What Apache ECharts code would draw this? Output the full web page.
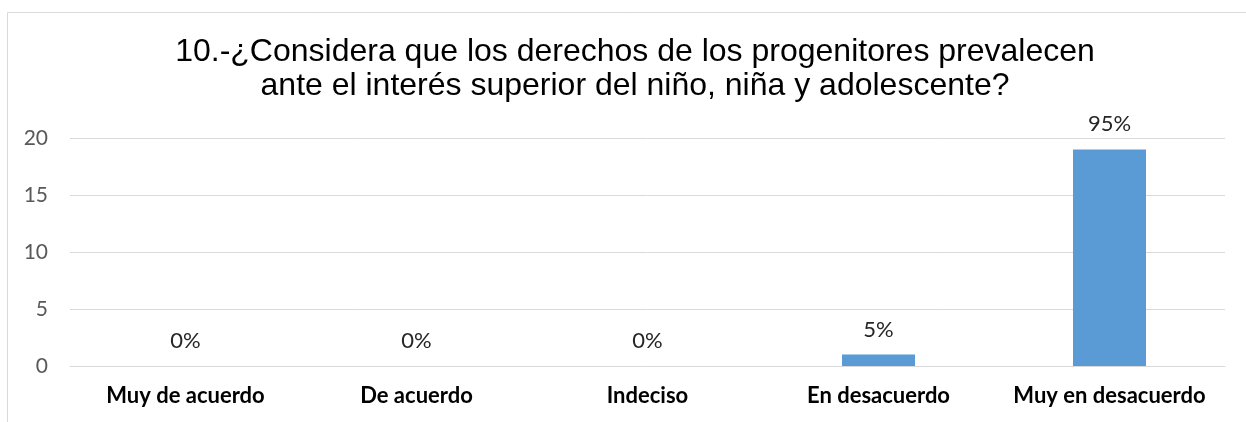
<!DOCTYPE html>
<html>
<head>
<meta charset="utf-8">
<script src="https://cdn.jsdelivr.net/npm/echarts@6/dist/echarts.min.js"></script>
<style>
  html, body { margin: 0; padding: 0; background: #fff; }
  #chart { width: 1246px; height: 422px; }
</style>
</head>
<body>
<div id="chart"></div>
<script>
  // data
  const categories = ['Muy de acuerdo', 'De acuerdo', 'Indeciso', 'En desacuerdo', 'Muy en desacuerdo']
  const counts = [0, 0, 0, 1, 19]
  const percentLabels = ['0%', '0%', '0%', '5%', '95%']
  const yTicks = { min: 0, max: 20, interval: 5 }

  const titleText = '10.-¿Considera que los derechos de los progenitores prevalecen\nante el interés superior del niño, niña y adolescente?'

  const chart = echarts.init(document.getElementById('chart'))
  chart.setOption({
    animation: false,
    title: {
      text: titleText,
      left: 630,
      top: 30,
      textAlign: 'center',
      textStyle: {
        fontFamily: 'Liberation Sans',
        fontSize: 32,
        fontWeight: 'normal',
        color: '#000',
        lineHeight: 34
      }
    },
    graphic: [{
      type: 'rect',
      shape: { x: 7.5, y: 12.5, width: 1400, height: 600 },
      style: { fill: 'none', stroke: '#d9d9d9', lineWidth: 1 },
      silent: true
    }],
    grid: { left: 70, right: 21, top: 138, bottom: 56 },
    xAxis: {
      type: 'category',
      data: categories,
      axisLine: { lineStyle: { color: '#d9d9d9', width: 1 } },
      axisTick: { show: false },
      axisLabel: {
        interval: 0,
        fontFamily: 'Lato',
        fontWeight: 'bold',
        fontSize: 22,
        color: '#000',
        margin: 19
      }
    },
    yAxis: {
      type: 'value',
      min: yTicks.min,
      max: yTicks.max,
      interval: yTicks.interval,
      axisLine: { show: false },
      axisTick: { show: false },
      splitLine: { lineStyle: { color: '#d9d9d9', width: 1 } },
      axisLabel: {
        fontFamily: 'Lato',
        fontSize: 21,
        color: '#595959',
        margin: 22
      }
    },
    series: [{
      type: 'bar',
      data: counts,
      barWidth: 73,
      itemStyle: { color: '#5b9bd5' },
      label: {
        show: true,
        position: 'top',
        distance: 14,
        fontFamily: 'Lato',
        fontSize: 22,
        color: '#262626',
        formatter: p => percentLabels[p.dataIndex]
      }
    }]
  })
</script>
</body>
</html>
